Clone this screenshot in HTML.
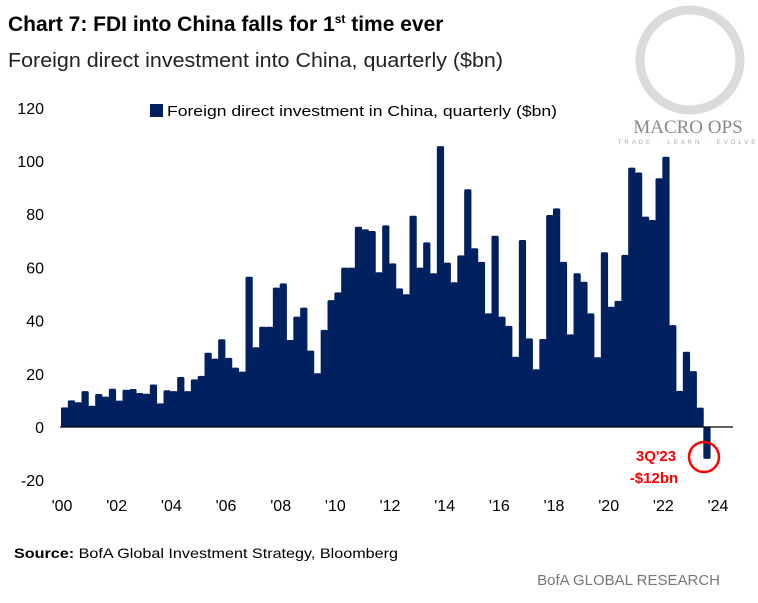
<!DOCTYPE html>
<html><head><meta charset="utf-8"><style>
body{margin:0;background:#fff;width:758px;height:603px;overflow:hidden;font-family:"Liberation Sans",sans-serif}
svg{display:block}
</style></head><body>
<svg width="758" height="603" viewBox="0 0 758 603">
<text x="8" y="31" font-size="21" font-weight="bold" fill="#000">Chart 7: FDI into China falls for 1<tspan font-size="12" dy="-8">st</tspan><tspan dy="8"> time ever</tspan></text>
<text x="8" y="67" font-size="20" fill="#222" textLength="495" lengthAdjust="spacingAndGlyphs">Foreign direct investment into China, quarterly ($bn)</text>
<g>
<circle cx="690" cy="60" r="50" fill="none" stroke="#ccc" stroke-width="9" opacity="0.7"/>
<text x="688" y="133" font-size="19" font-family="Liberation Serif,serif" fill="#888" text-anchor="middle">MACRO OPS</text>
<text x="688" y="144" font-size="6" fill="#aaa" text-anchor="middle" letter-spacing="3">TRADE · LEARN · EVOLVE</text>
</g>
<rect x="150" y="104" width="13" height="13" fill="#002060"/>
<text x="167" y="116" font-size="15" fill="#000" textLength="390" lengthAdjust="spacingAndGlyphs">Foreign direct investment in China, quarterly ($bn)</text>
<g id="yaxis"></g>
<g id="bars"></g>
<line id="zero" stroke="#000" stroke-width="1.2"/>
<g id="xaxis"></g>
<circle cx="704" cy="457" r="15" fill="none" stroke="#f00" stroke-width="2.5"/>
<text x="656" y="461" font-size="15" font-weight="bold" fill="#f00" text-anchor="middle">3Q'23</text>
<text x="654" y="483" font-size="15" font-weight="bold" fill="#f00" text-anchor="middle">-$12bn</text>
<text x="14" y="558" font-size="14" fill="#000" textLength="384" lengthAdjust="spacingAndGlyphs"><tspan font-weight="bold">Source:</tspan>  BofA Global Investment Strategy, Bloomberg</text>
<text x="720" y="585" font-size="15" fill="#777" text-anchor="end">BofA GLOBAL RESEARCH</text>
</svg>
<script>
const values=[7.4,10,9.3,13.5,8,12.4,11.4,14.4,9.9,14,14.3,12.8,12.5,16,8.9,13.8,13.5,18.8,13.5,17.9,19.2,27.9,25.7,33,26,22.3,20.8,56.5,30,37.7,37.7,52.4,54,32.7,41.5,44.9,28.7,20.2,36.5,47.7,50.6,59.9,59.9,75.3,74.3,73.7,58.2,75.8,61.5,52.1,49.9,79.4,59.9,69.4,57.8,105.6,61.8,54.4,64.5,89.4,67.2,62.1,42.7,71.9,41.5,38,26.4,70.3,33.3,21.7,33.1,79.7,82.2,62.1,34.8,57.8,54.6,42.7,26.2,65.7,45.2,47.4,64.7,97.5,95.7,79.1,77.8,93.5,101.6,38.3,13.6,28.3,21,7.3,-12];
const yTicks=[120,100,80,60,40,20,0,-20];
const xLabels=["'00","'02","'04","'06","'08","'10","'12","'14","'16","'18","'20","'22","'24"];
const NS='http://www.w3.org/2000/svg';
const x0=61,qw=656/96,yz=427,ys=2.66;
const X=q=>x0+q*qw, Y=v=>yz-v*ys;
const bars=document.getElementById('bars');
values.forEach((v,i)=>{const r=document.createElementNS(NS,'rect');
r.setAttribute('x',X(i));r.setAttribute('width',qw+0.4);
r.setAttribute('y',Math.min(Y(v),yz));r.setAttribute('height',Math.abs(v*ys));
r.setAttribute('fill','#002060');r.setAttribute('rx','1.5');


bars.appendChild(r);});
const z=document.getElementById('zero');z.setAttribute('x1',60);z.setAttribute('x2',733);z.setAttribute('y1',yz);z.setAttribute('y2',yz);
const ya=document.getElementById('yaxis');
yTicks.forEach(t=>{const e=document.createElementNS(NS,'text');e.setAttribute('x',44);e.setAttribute('y',Y(t)+6);
e.setAttribute('text-anchor','end');e.setAttribute('font-size','16');e.textContent=t;


ya.appendChild(e);});
const xa=document.getElementById('xaxis');
xLabels.forEach((l,i)=>{const e=document.createElementNS(NS,'text');e.setAttribute('x',X(i*8)+1);e.setAttribute('y',511);
e.setAttribute('text-anchor','middle');e.setAttribute('font-size','16');e.textContent=l;


xa.appendChild(e);});
</script>
</body></html>
